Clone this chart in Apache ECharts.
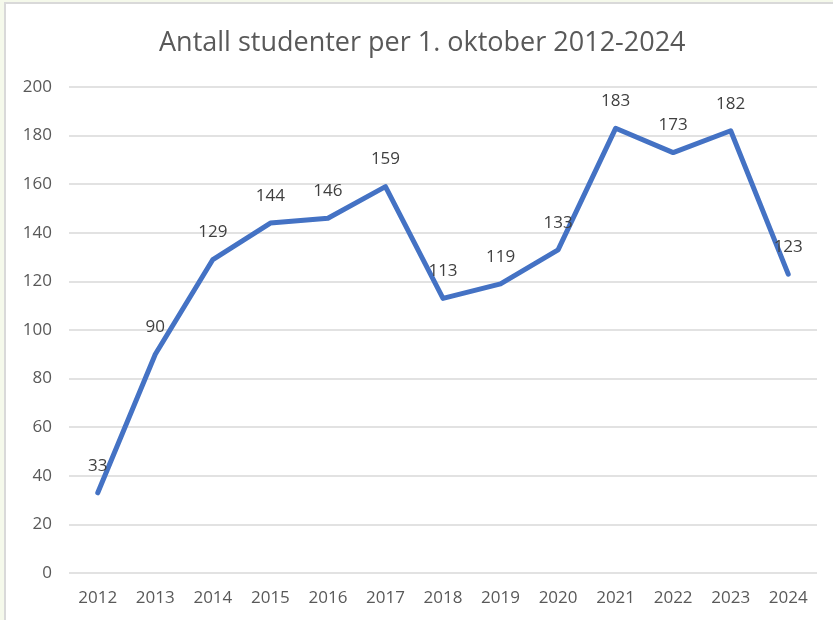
<!DOCTYPE html>
<html>
<head>
<meta charset="utf-8">
<script src="https://cdn.jsdelivr.net/npm/echarts@6/dist/echarts.min.js"></script>
<style>
  html, body { margin: 0; padding: 0; background: #f5f9eb; }
  #chart { width: 833px; height: 620px; }
</style>
</head>
<body>
<div id="chart"></div>
<script>
var years = ["2012","2013","2014","2015","2016","2017","2018","2019","2020","2021","2022","2023","2024"];
var students = [33, 90, 129, 144, 146, 159, 113, 119, 133, 183, 173, 182, 123];
var titleText = "Antall studenter per 1. oktober 2012-2024";

var chart = echarts.init(document.getElementById("chart"));
var txtFont = "'Open Sans', 'DejaVu Sans', sans-serif";
chart.setOption({
    animation: false,
    graphic: [{
        type: "rect",
        z: -10,
        shape: { x: 5, y: 3, width: 840, height: 630 },
        style: { fill: "#ffffff", stroke: "#d9d9d9", lineWidth: 2 }
    }],
    title: {
        text: titleText,
        left: 154,
        top: 25,
        textStyle: { fontFamily: txtFont, fontSize: 27, fontWeight: "normal", color: "#595959" }
    },
    grid: { left: 69, right: 16, top: 87, bottom: 47 },
    xAxis: {
        type: "category",
        data: years,
        boundaryGap: true,
        axisLine: { show: false },
        axisTick: { show: false },
        axisLabel: { fontSize: 17, color: "#595959", fontFamily: txtFont, margin: 17 }
    },
    yAxis: {
        type: "value",
        min: 0,
        max: 200,
        interval: 20,
        axisLine: { show: false },
        axisTick: { show: false },
        axisLabel: { fontSize: 17, color: "#595959", fontFamily: txtFont, margin: 17 },
        splitLine: { lineStyle: { color: "#d9d9d9", width: 1.5 } }
    },
    series: [{
        type: "line",
        data: students,
        showSymbol: true,
        symbol: "circle",
        symbolSize: 1,
        itemStyle: { color: "#4472c4" },
        lineStyle: { color: "#4472c4", width: 5, cap: "round", join: "round" },
        label: {
            show: true,
            position: "top",
            distance: 18,
            fontSize: 17,
            color: "#404040",
            fontFamily: txtFont
        }
    }]
});
</script>
</body>
</html>
